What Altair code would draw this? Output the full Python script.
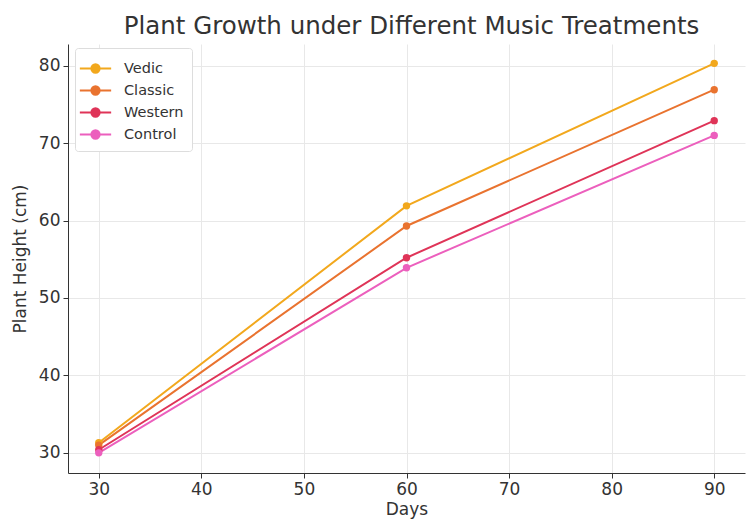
import altair as alt
import pandas as pd

# Plant height (cm) measured on days 30, 60 and 90 for each music treatment
days = [30, 60, 90]
treatments = ["Vedic", "Classic", "Western", "Control"]
vedic = [31.3, 61.9, 80.3]
classic = [31.0, 59.3, 76.9]
western = [30.4, 55.2, 72.9]
control = [30.0, 53.9, 71.0]
colors = ["#f2a81d", "#e9732f", "#df3458", "#ec5fbd"]

rows = []
for name, series in zip(treatments, [vedic, classic, western, control]):
    for d, h in zip(days, series):
        rows.append({"Days": d, "Height": h, "Treatment": name})
df = pd.DataFrame(rows)

font = "DejaVu Sans"

legend = alt.Legend(
    title=None,
    orient="none",
    legendX=7,
    legendY=4,
    symbolType="M-1.4,0H1.4M0.38,0A0.38,0.38 0 1,1 -0.38,0A0.38,0.38 0 1,1 0.38,0",
    symbolSize=500,
    symbolStrokeWidth=1.8,
    labelFont=font,
    labelFontSize=14.5,
    labelColor="#333333",
    labelOffset=16,
    rowPadding=1,
    padding=8,
    strokeColor="#dddddd",
    fillColor="white",
    cornerRadius=3,
)
scale = alt.Scale(domain=treatments, range=colors)

x = alt.X(
    "Days:Q",
    scale=alt.Scale(domain=[27, 93], nice=False, zero=False),
    axis=alt.Axis(values=[30, 40, 50, 60, 70, 80, 90], title="Days"),
)
y = alt.Y(
    "Height:Q",
    scale=alt.Scale(domain=[27.4, 82.8], nice=False, zero=False),
    axis=alt.Axis(values=[30, 40, 50, 60, 70, 80], title="Plant Height (cm)"),
)

lines = alt.Chart(df).mark_line(strokeWidth=2).encode(
    x=x, y=y, color=alt.Color("Treatment:N", scale=scale, legend=legend)
)
points = alt.Chart(df).mark_point(size=55, filled=True, opacity=1).encode(
    x=x, y=y, color=alt.Color("Treatment:N", scale=scale, legend=legend)
)

chart = (
    alt.layer(lines, points)
    .properties(
        width=677,
        height=429,
        title=alt.TitleParams(
            "Plant Growth under Different Music Treatments",
            font=font,
            fontSize=24.5,
            fontWeight="normal",
            color="#333333",
            offset=5,
            dx=5,
        ),
        autosize=alt.AutoSizeParams(type="none"),
        padding={"left": 68, "top": 44, "right": 2, "bottom": 48},
    )
    .configure_view(stroke=None)
    .configure_axis(
        labelFont=font,
        labelFontSize=17,
        labelColor="#333333",
        titleFont=font,
        titleFontSize=17,
        titleFontWeight="normal",
        titleColor="#333333",
        gridColor="#e8e8e8",
        gridWidth=1,
        domainColor="#333333",
        tickColor="#333333",
        tickSize=5,
        labelPadding=3,
    )
    .configure_axisX(titlePadding=4)
    .configure_axisY(titlePadding=9)
)

chart.save("out.html", embed_options={"renderer": "svg", "actions": False})
